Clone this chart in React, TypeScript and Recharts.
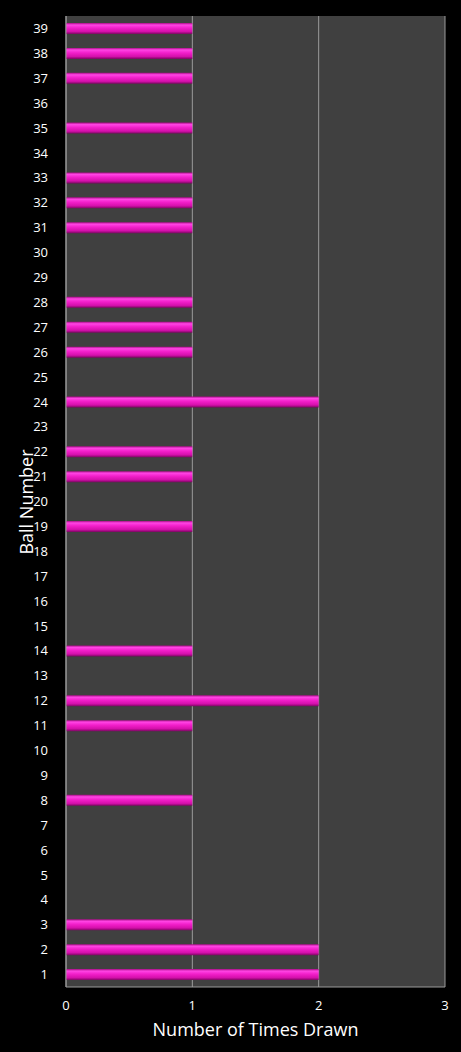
import React from "react";
import { BarChart, Bar, XAxis, YAxis, CartesianGrid } from "recharts";

// ─── Data ─────────────────────────────────────────────────────────────────────

const balls = [
  "1", "2", "3", "4", "5", "6", "7", "8", "9", "10",
  "11", "12", "13", "14", "15", "16", "17", "18", "19", "20",
  "21", "22", "23", "24", "25", "26", "27", "28", "29", "30",
  "31", "32", "33", "34", "35", "36", "37", "38", "39",
];

const timesDrawn = [
  2, 2, 1, 0, 0, 0, 0, 1, 0, 0,
  1, 2, 0, 1, 0, 0, 0, 0, 1, 0,
  1, 1, 0, 2, 0, 1, 1, 1, 0, 0,
  1, 1, 1, 0, 1, 0, 1, 1, 1,
];

const xTicks = [0, 1, 2, 3];

const data = balls.map((ball, i) => ({ ball, count: timesDrawn[i] }));

const FONT = "'Open Sans', sans-serif";
const AXIS_GRAY = "#9a9a9a";

export default function App() {
  return (
    <div style={{ position: "absolute", left: 0, top: 0, width: 461, height: 1052, background: "#000" }}>
      <BarChart
        width={461}
        height={1052}
        data={data}
        layout="vertical"
        margin={{ top: 16, right: 16, bottom: 0, left: 0 }}
        barSize={11}
      >
        <defs>
          <linearGradient id="pinkBar" x1="0" y1="0" x2="0" y2="1">
            <stop offset="0%" stopColor="#a80d85" />
            <stop offset="18%" stopColor="#ff45e4" />
            <stop offset="45%" stopColor="#f21fca" />
            <stop offset="78%" stopColor="#d410ab" />
            <stop offset="100%" stopColor="#7a0760" />
          </linearGradient>
        </defs>
        <CartesianGrid horizontal={false} stroke={AXIS_GRAY} fill="#404040" />
        <XAxis
          type="number"
          domain={[0, 3]}
          ticks={xTicks}
          height={65}
          stroke={AXIS_GRAY}
          tickLine={false}
          tickMargin={8}
          tick={{ fill: "#ffffff", fontSize: 13, fontFamily: FONT }}
          label={{
            value: "Number of Times Drawn",
            position: "insideBottom",
            offset: 16,
            fill: "#ffffff",
            fontSize: 18,
            fontFamily: FONT,
          }}
        />
        <YAxis
          type="category"
          dataKey="ball"
          reversed
          width={66}
          interval={0}
          stroke={AXIS_GRAY}
          tickLine={false}
          tickMargin={12}
          tick={{ fill: "#ffffff", fontSize: 13, fontFamily: FONT }}
        />
        <Bar dataKey="count" fill="url(#pinkBar)" isAnimationActive={false} />
      </BarChart>
      <div
        style={{
          position: "absolute",
          left: 26,
          top: 502,
          transform: "translate(-50%, -50%) rotate(-90deg)",
          color: "#ffffff",
          fontSize: 18,
          fontFamily: FONT,
          whiteSpace: "nowrap",
        }}
      >
        Ball Number
      </div>
    </div>
  );
}
